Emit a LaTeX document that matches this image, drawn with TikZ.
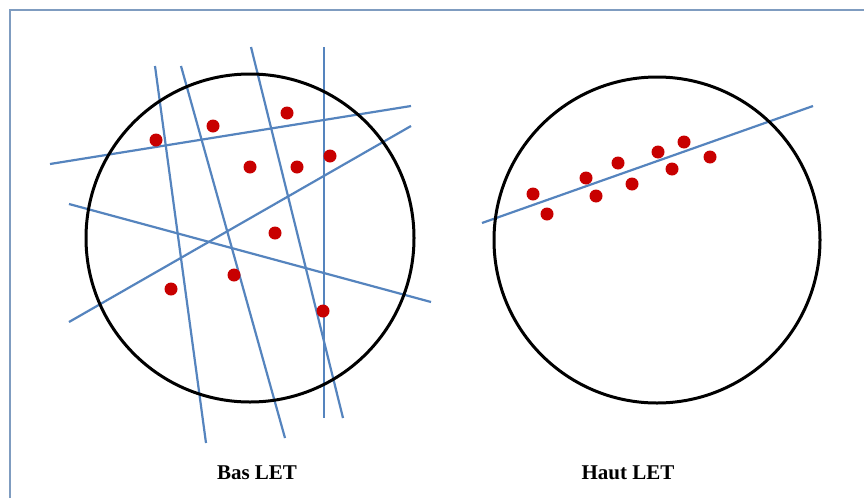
\documentclass[tikz,border=0pt]{standalone}
\usepackage{fontspec}
\setmainfont{Liberation Serif}
\usepackage{xcolor}
\definecolor{letframe}{HTML}{7F9CC0}
\definecolor{letblue}{HTML}{5584BE}
\definecolor{letred}{HTML}{C80000}
\usetikzlibrary{positioning}

\begin{document}
\begin{tikzpicture}[
  x=1pt, y=-1pt,
  every node/.style={font=\fontsize{21}{24}\selectfont\bfseries},
  frame/.style={line width=2.4pt, letframe},
  disc/.style={line width=3pt, black},
  ray/.style={line width=2.2pt, letblue},
  pt/.style={letred},
]
  \useasboundingbox (0,0) rectangle (864,498);
  \fill[white] (0,0) rectangle (864,498);

  % frame
  \draw[frame] (10,498) -- (10,10) -- (864,10);

  % left sample: scattered points, many fitting lines
  \draw[ray] (50,164) -- (411,106);
  \draw[ray] (69,322) -- (411,126);
  \draw[ray] (69,204) -- (431,302);
  \draw[ray] (155,66) -- (206,443);
  \draw[ray] (181,66) -- (285,438);
  \draw[ray] (251,47) -- (343,418);
  \draw[ray] (324,47) -- (324,418);
  \draw[disc] (250,238) circle (164);
  \foreach \x/\y in {156/140, 213/126, 287/113, 250/167, 297/167,
                     330/156, 275/233, 234/275, 171/289, 323/311}
    \fill[pt] (\x,\y) circle (6.5);

  % right sample: aligned points, one line
  \draw[ray] (482,223) -- (813,106);
  \draw[disc] (657,240) circle (163);
  \foreach \x/\y in {533/194, 547/214, 586/178, 596/196, 618/163,
                     632/184, 658/152, 672/169, 684/142, 710/157}
    \fill[pt] (\x,\y) circle (6.5);

  % captions
  \node (bas)  at (257,473) {Bas LET};
  \node (haut) at (628,473) {Haut LET};
\end{tikzpicture}
\end{document}
